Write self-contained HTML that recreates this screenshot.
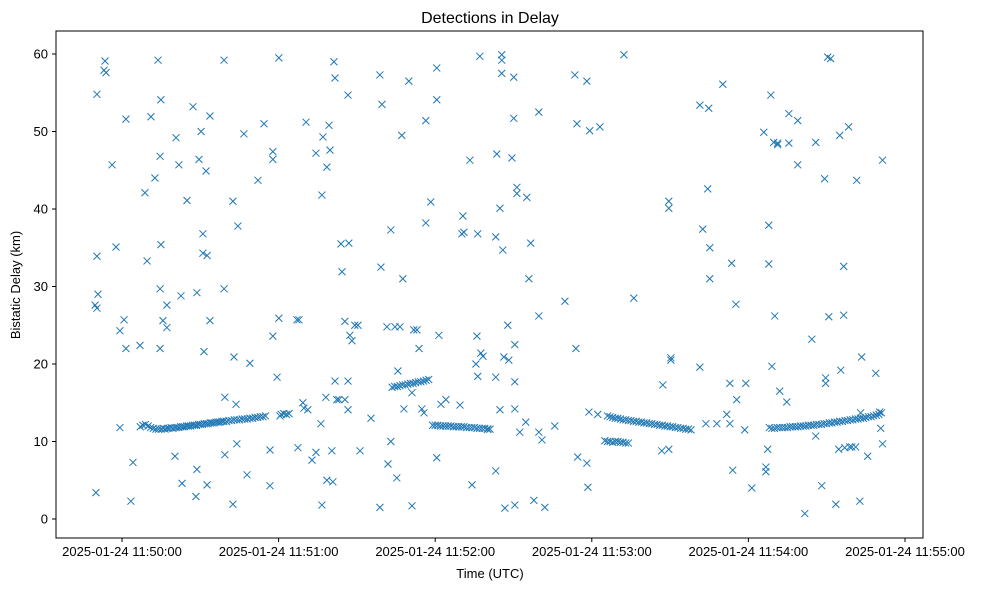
<!DOCTYPE html>
<html><head><meta charset="utf-8"><style>
html,body{margin:0;padding:0;background:#fff;}
svg{display:block;font-family:"Liberation Sans","DejaVu Sans",sans-serif;}
</style></head><body>
<svg id="chart" width="988" height="590">
<rect x="0" y="0" width="988" height="590" fill="#fff"/>
<text x="490" y="23" text-anchor="middle" font-size="16" fill="#000">Detections in Delay</text>
<g id="marks"></g>
<rect x="56" y="31" width="867" height="507" fill="none" stroke="#000" stroke-width="1"/>
<g id="xticks"></g>
<g id="yticks"></g>
<text x="490" y="578" text-anchor="middle" font-size="13" fill="#000">Time (UTC)</text>
<text x="20" y="285" text-anchor="middle" font-size="13" fill="#000" transform="rotate(-90 20 285)">Bistatic Delay (km)</text>
</svg>
<script>
// seconds after 11:50:00 UTC
const xTickVals = [0, 60, 120, 180, 240, 300];
const xTickLabels = ["2025-01-24 11:50:00","2025-01-24 11:51:00","2025-01-24 11:52:00","2025-01-24 11:53:00","2025-01-24 11:54:00","2025-01-24 11:55:00"];
const yTickVals = [0, 10, 20, 30, 40, 50, 60];
const yTickLabels = ["0","10","20","30","40","50","60"];

const scatterT = [-10,-9.6,-9.6,-9.2,-10.3,-9.6,-6.5,-6.9,-6.1,-3.8,-2.3,-0.8,-0.8,0.8,1.5,1.5,4.2,3.4,6.9,8.8,9.6,11.1,12.6,13.8,14.9,14.6,14.6,14.9,15.7,17.2,17.2,14.6,20.3,20.7,21.8,22.6,23,24.9,27.2,28.3,28.7,28.7,29.5,30.3,31,31,32.6,31.4,32.2,32.6,33.7,33.7,39.1,39.1,39.4,39.4,42.5,42.9,44,44.4,43.7,42.5,46.7,47.9,49,52.1,54.4,56.7,56.7,57.8,57.8,57.8,59.4,60.1,60.1,60.5,67.4,67,67.8,69.3,69.7,70.5,71.2,72.8,74.3,74.3,76.2,76.6,77,76.6,78.5,79.7,79.3,78.1,78.5,81.2,81.6,80.8,80.4,81.6,83.9,82.3,83.1,85.4,84.3,85.4,86.6,86.9,86.6,86.6,87.3,88.1,89.2,90.4,91.2,95.4,98.8,99.6,99.2,98.8,101.5,101.9,103,103,104.6,105.3,105.7,106.5,107.2,107.6,108,109.9,111.1,111.1,111.8,113,113.8,114.9,115.7,116.4,116.4,118.3,120.6,120.6,121.4,120.6,122.2,124.1,129.5,130.2,130.6,131,133.3,134.1,135.6,136,136.3,136.3,137.1,137.5,138.3,140.2,143.2,143.2,143.6,143.2,144.8,144.8,145.5,145.5,145.5,145.9,146.3,146.7,147.8,148.2,149.4,150.1,150.1,150.5,150.5,150.5,150.5,151.3,151.3,152.4,154.7,155.1,155.9,156.6,157.8,159.7,159.7,159.7,160.9,162,165.8,169.7,173.5,173.9,174.3,174.6,178.1,178.1,178.5,178.9,179.2,182.3,183.1,192.3,196.1,206.8,207.2,209.5,209.5,210.3,210.3,209.5,221.4,221.4,222.5,223.7,224.4,224.8,225.2,225.2,227.9,231.7,230.2,232.9,232.9,233.6,234,235.2,235.5,238.6,239,241.3,245.9,246.7,246.7,247.4,247.8,247.8,248.6,249,250.1,249.7,251.2,251.2,252,254.7,255.5,255.5,258.9,258.9,261.6,264.3,265.8,265.8,268.1,269.2,269.6,269.6,270.4,271.5,270.8,273.5,274.6,275,275.4,276.5,276.5,276.9,278.4,281.1,281.5,283,282.7,283.4,285.7,288.8,290.3,290.7,291.4,291.4,278.8,279.6];
const scatterV = [3.4,54.8,33.9,29,27.6,27.2,59.1,57.9,57.6,45.7,35.1,11.8,24.3,25.7,22,51.6,7.3,2.3,22.4,42.1,33.3,51.9,44,59.2,54.1,46.8,29.7,35.4,25.6,27.6,24.7,22,8.1,49.2,45.7,28.8,4.6,41.1,53.2,2.9,6.4,29.2,46.4,50,36.8,34.3,34,21.6,44.9,4.4,52,25.6,59.2,29.7,15.7,8.3,41,20.9,9.7,37.8,14.8,1.9,49.7,5.7,20.1,43.7,51,8.9,4.3,23.6,47.4,46.4,18.3,25.9,59.5,13.3,9.2,25.7,25.7,15,14.3,51.2,14.1,7.6,8.6,47.2,12.3,1.8,49.3,41.8,45.4,47.6,50.8,15.7,5,59,56.9,4.8,8.8,17.8,35.5,15.4,15.4,15.4,31.9,25.5,54.7,35.6,17.8,14.1,23.7,23,25,25,8.8,13,57.3,53.5,32.5,1.5,24.8,7.1,10,37.3,24.8,5.3,19.1,24.8,49.5,31,14.2,56.5,1.7,16.3,24.4,24.4,22,14.2,13.7,51.4,38.2,40.9,54.1,58.2,23.7,7.9,14.8,15.4,14.7,36.8,39.1,37,46.3,4.4,20,23.6,36.8,18.4,59.7,21.4,21,11.6,36.4,18.3,47.1,6.2,14.1,40.1,59.9,59.2,57.5,34.7,20.9,1.4,25,20.5,46.6,51.7,57,22.5,17.7,14.2,1.8,42.8,42,11.2,12.5,41.5,31,35.6,2.4,26.2,52.5,11.2,10.2,1.5,12,28.1,57.3,22,51,8,7.2,56.5,4.1,13.8,50.1,13.5,50.6,59.9,28.5,8.8,17.3,41,40.1,20.8,20.5,9,19.6,53.4,37.4,12.3,42.6,53,35,31,12.3,13.5,56.1,12.3,17.5,33,6.3,27.7,15.4,11.5,17.5,4,49.9,6.7,6.1,9,37.9,32.9,54.7,19.7,26.2,48.6,48.5,48.3,16.5,15.1,52.3,48.5,51.4,45.7,0.7,23.2,48.6,10.7,4.3,43.9,18.2,17.5,59.6,59.4,26.1,1.9,9,49.5,19.2,26.3,32.6,9.2,50.6,9.3,43.7,13.7,2.3,20.9,8.1,18.8,13.8,11.7,46.3,9.7,9.3,9.3];

const trackAT = [7,8,9,10,11,12,13,14,15,15.8,16.5,17.3,18,18.8,19.5,20.3,21,21.8,22.5,23.3,24,24.8,25.5,26.3,27,27.8,28.5,29.3,30,30.8,31.5,32.3,33,33.8,34.5,35.3,36,36.8,37.5,38.3,39,40,41,42,43,44,45,46,47,48,49,50,51,52,53,54,55,61,62,63,64];
const trackAV = [11.9,12.1,12.2,12.0,11.8,11.7,11.6,11.6,11.6,11.7,11.6,11.7,11.7,11.8,11.7,11.8,11.8,11.8,11.9,11.9,11.9,12.0,12.0,12.0,12.1,12.1,12.1,12.2,12.2,12.2,12.3,12.3,12.3,12.4,12.4,12.4,12.5,12.5,12.5,12.6,12.6,12.6,12.7,12.7,12.8,12.8,12.8,12.9,12.9,12.9,13.0,13.0,13.1,13.1,13.2,13.2,13.3,13.5,13.6,13.5,13.6];
const trackBT = [103.5,104.5,105.5,106.5,107.5,108.5,109.5,110.5,111.5,112.5,113.5,114.5,115.5,116.5,117.5];
const trackBV = [17.0,17.1,17.1,17.2,17.3,17.3,17.4,17.5,17.5,17.6,17.7,17.7,17.8,17.9,18.0];
const trackCT = [119,120,121,122,123,124,125,126,127,128,129,130,131,132,133,134,135,136,137,138,139,140,141];
const trackCV = [12.1,12.1,12.1,12.0,12.0,12.0,12.0,12.0,11.9,11.9,11.9,11.9,11.9,11.8,11.8,11.8,11.8,11.7,11.7,11.7,11.7,11.6,11.6];
const trackDT = [186,187,188,189,190,191,192,193,194,195,196,197,198,199,200,201,202,203,204,205,206,207,208,209,210,211,212,213,214,215,216,217,218,185,186,187,188,189,190,191,192,193,194];
const trackDV = [13.3,13.2,13.1,13.0,13.0,12.9,12.8,12.8,12.7,12.7,12.6,12.6,12.5,12.5,12.4,12.4,12.3,12.3,12.2,12.2,12.1,12.1,12.0,12.0,11.9,11.9,11.8,11.8,11.7,11.7,11.6,11.6,11.5,10.1,10.0,10.0,9.9,10.0,10.0,9.9,9.9,9.8,9.8];
const trackET = [248,249,250,251,252,253,254,255,256,257,258,259,260,261,262,263,264,265,266,267,268,269,270,271,272,273,274,275,276,277,278,279,280,281,282,283,284,285,286,287,288,289,290,291];
const trackEV = [11.8,11.7,11.7,11.8,11.8,11.8,11.8,11.8,11.9,11.9,11.9,11.9,12.0,12.0,12.0,12.1,12.1,12.1,12.2,12.2,12.2,12.3,12.3,12.4,12.4,12.5,12.5,12.6,12.6,12.7,12.7,12.8,12.8,12.9,12.9,13.0,13.0,13.1,13.2,13.2,13.3,13.4,13.5,13.7];

const NS = "http://www.w3.org/2000/svg";
function xScale(t){ return 122 + t * (783 / 300); }
function yScale(v){ return 519 - v * 7.75; }

const marks = document.getElementById("marks");
function plot(ts, vs){
  const n = Math.min(ts.length, vs.length);
  for (let i = 0; i < n; i++){
    const cx = xScale(ts[i]), cy = yScale(vs[i]), r = 3.5;
    const p = document.createElementNS(NS, "path");
    p.setAttribute("d", `M${cx-r},${cy-r}L${cx+r},${cy+r}M${cx-r},${cy+r}L${cx+r},${cy-r}`);
    p.setAttribute("stroke", "#1f77b4");
    p.setAttribute("stroke-width", "1");
    p.setAttribute("fill", "none");
    
    
    marks.appendChild(p);
  }
}
plot(scatterT, scatterV);
plot(trackAT, trackAV);
plot(trackBT, trackBV);
plot(trackCT, trackCV);
plot(trackDT, trackDV);
plot(trackET, trackEV);

const xg = document.getElementById("xticks");
xTickVals.forEach((t, i) => {
  const x = xScale(t);
  const l = document.createElementNS(NS, "line");
  l.setAttribute("x1", x); l.setAttribute("x2", x);
  l.setAttribute("y1", 538); l.setAttribute("y2", 542);
  l.setAttribute("stroke", "#000");
  
  
  xg.appendChild(l);
  const tx = document.createElementNS(NS, "text");
  tx.setAttribute("x", x); tx.setAttribute("y", 556);
  tx.setAttribute("text-anchor", "middle");
  tx.setAttribute("font-size", "13");
  tx.textContent = xTickLabels[i];
  
  
  xg.appendChild(tx);
});
const yg = document.getElementById("yticks");
yTickVals.forEach((v, i) => {
  const y = yScale(v);
  const l = document.createElementNS(NS, "line");
  l.setAttribute("x1", 52); l.setAttribute("x2", 56);
  l.setAttribute("y1", y); l.setAttribute("y2", y);
  l.setAttribute("stroke", "#000");
  
  
  yg.appendChild(l);
  const tx = document.createElementNS(NS, "text");
  tx.setAttribute("x", 48); tx.setAttribute("y", y + 4.5);
  tx.setAttribute("text-anchor", "end");
  tx.setAttribute("font-size", "13");
  tx.textContent = yTickLabels[i];
  
  
  yg.appendChild(tx);
});
</script>
</body></html>
